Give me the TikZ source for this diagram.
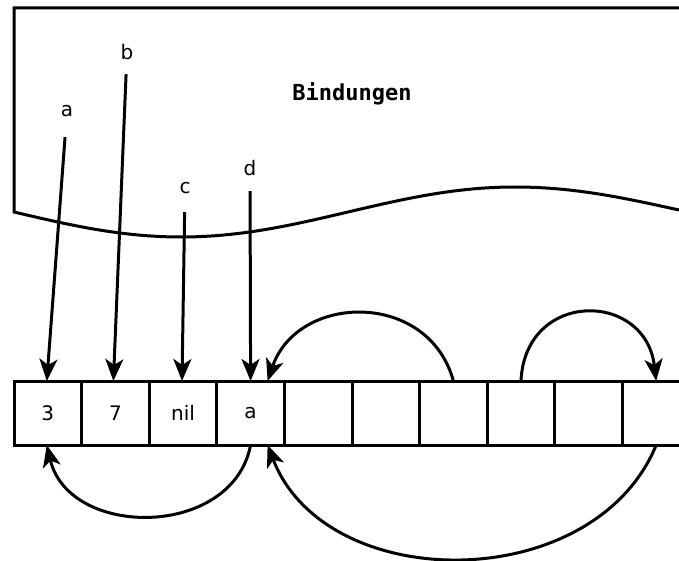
\documentclass[tikz,border=0pt]{standalone}
\usepackage{fontspec}
\setmainfont{DejaVu Sans}
\setmonofont{DejaVu Sans Mono}
\usetikzlibrary{arrows.meta,calc}
\begin{document}
\begin{tikzpicture}[x=1pt,y=-1pt,
  line width=3pt,
  tip/.style={-{Stealth[length=22pt,width=18pt,inset=6pt]}},
  cell/.style={draw,minimum width=67.6pt,minimum height=64pt,inner sep=0pt,outer sep=0pt,font=\fontsize{20}{24}\selectfont},
  lbl/.style={inner sep=0pt,font=\fontsize{20}{24}\selectfont}]
\useasboundingbox (0,0) rectangle (679,561);
% Bindungen region
\draw[line join=miter] (679,8) -- (14,8) -- (14,212)
  sin (181,237) cos (348,212) sin (515,187) cos (679,210);
\node[font=\ttfamily\bfseries\fontsize{22}{26}\selectfont] (bind) at (352,94) {Bindungen};
% cells
\foreach \i/\t in {1/3,2/7,3/nil,4/a,5/,6/,7/,8/,9/,10/} {
  \node[cell] (c\i) at ({14+33.8+67.6*(\i-1)},413) {\t};
}
% labels
\node[lbl] (la) at (67,111) {a};
\node[lbl] (lb) at (127,52) {b};
\node[lbl] (lc) at (185,188) {c};
\node[lbl] (ld) at (250,168) {d};
\draw[tip,shorten <=19pt] (la) -- ($(c1.north)+(-1,0)$);
\draw[tip,shorten <=13pt] (lb) -- ($(c2.north)+(-2,0)$);
\draw[tip,shorten <=17pt] (lc) -- ($(c3.north)+(-1,0)$);
\draw[tip,shorten <=14pt] (ld) -- (c4.north);
% arcs above
\coordinate (s1) at ($(c7.north)+(0,0)$);
\coordinate (e1) at ($(c4.north)+(17,0)$);
\draw[tip] (s1) .. controls ($(s1)+(-25,-91)$) and ($(e1)+(30,-88)$) .. (e1);
\coordinate (s2) at ($(c8.north)+(0,0)$);
\coordinate (e2) at ($(c10.north)+(0,0)$);
\draw[tip] (s2) .. controls ($(s2)+(4,-91)$) and ($(e2)+(-11,-91)$) .. (e2);
% arcs below
\coordinate (s3) at ($(c4.south)+(0,0)$);
\coordinate (e3) at ($(c1.south)+(-1,0)$);
\draw[tip] (s3) .. controls ($(s3)+(-18,94)$) and ($(e3)+(22,94)$) .. (e3);
\coordinate (s4) at ($(c10.south)+(0,0)$);
\coordinate (e4) at ($(c4.south)+(17,0)$);
\draw[tip] (s4) .. controls ($(s4)+(-62,151)$) and ($(e4)+(58,151)$) .. (e4);
\end{tikzpicture}
\end{document}
